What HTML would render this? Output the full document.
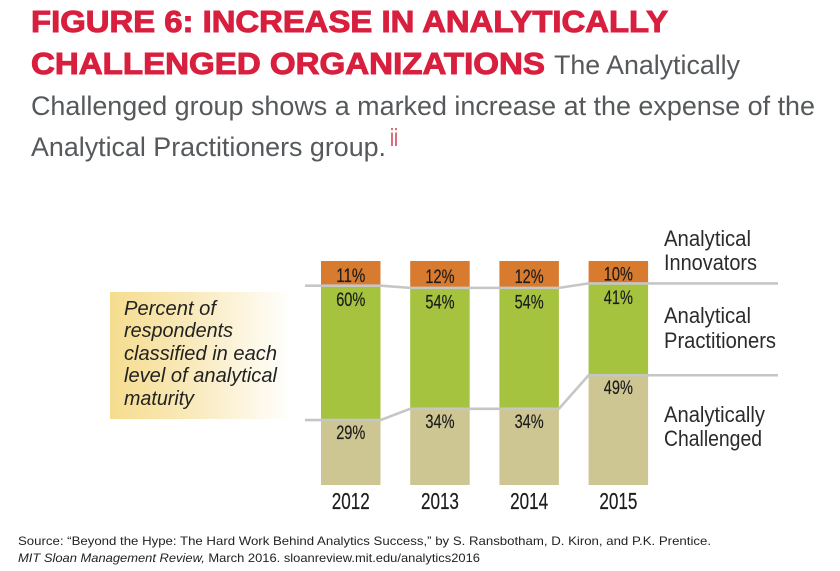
<!DOCTYPE html>
<html lang="en">
<head>
<meta charset="utf-8">
<title>Figure 6: Increase in Analytically Challenged Organizations</title>
<style>
html,body{margin:0;padding:0;background:#fff;width:840px;height:571px;overflow:hidden}
svg{display:block}
.t-red{font-family:"Liberation Sans",sans-serif;font-weight:700;font-size:31px;fill:#d81f3e;stroke:#d81f3e;stroke-width:1px}
.t-sub{font-family:"Liberation Sans",sans-serif;font-size:27px;fill:#56595b}
.src{font-family:"Liberation Sans",sans-serif;font-size:12px;fill:#222}
.nar{font-family:"Liberation Sans Narrow","Liberation Sans",sans-serif;fill:#1c1c1c}
.lab{font-size:22.5px;fill:#2b2b2b}
.note{font-family:"Liberation Sans",sans-serif;font-style:italic;font-size:20px;fill:#222}
</style>
</head>
<body>
<svg id="chart" xmlns="http://www.w3.org/2000/svg" width="840" height="571" viewBox="0 0 840 571">
<defs>
<linearGradient id="noteGrad" x1="0" x2="1" y1="0" y2="0">
<stop offset="0" stop-color="#f5dc8e"/>
<stop offset="0.45" stop-color="#f9eabc"/>
<stop offset="1" stop-color="#ffffff"/>
</linearGradient>
</defs>
<rect width="840" height="571" fill="#fff"/>
<g>
<text class="t-red" x="31" y="32" textLength="637" lengthAdjust="spacingAndGlyphs">FIGURE 6: INCREASE IN ANALYTICALLY</text>
<text class="t-red" x="31" y="74" textLength="514" lengthAdjust="spacingAndGlyphs">CHALLENGED ORGANIZATIONS</text>
<text class="t-sub" x="554" y="74" textLength="186" lengthAdjust="spacingAndGlyphs">The Analytically</text>
<text class="t-sub" x="31" y="115" textLength="784" lengthAdjust="spacingAndGlyphs">Challenged group shows a marked increase at the expense of the</text>
<text class="t-sub" x="31" y="156" textLength="355" lengthAdjust="spacingAndGlyphs">Analytical Practitioners group.</text>
<text x="390" y="146" font-family="Liberation Sans, sans-serif" font-size="25" fill="#d8475e" textLength="8" lengthAdjust="spacingAndGlyphs">ii</text>
</g>
<g>
<rect x="110" y="292" width="182" height="127" fill="url(#noteGrad)"/>
<text class="note" x="124" y="315" textLength="92" lengthAdjust="spacingAndGlyphs">Percent of</text>
<text class="note" x="124" y="337" textLength="109" lengthAdjust="spacingAndGlyphs">respondents</text>
<text class="note" x="124" y="360" textLength="153" lengthAdjust="spacingAndGlyphs">classified in each</text>
<text class="note" x="124" y="382" textLength="153" lengthAdjust="spacingAndGlyphs">level of analytical</text>
<text class="note" x="124" y="405" textLength="70" lengthAdjust="spacingAndGlyphs">maturity</text>
</g>
<g id="bars"></g>
<g id="connectors"></g>
<g id="values"></g>
<g id="years"></g>
<g>
<text class="nar lab" x="664" y="246" textLength="87" lengthAdjust="spacingAndGlyphs">Analytical</text>
<text class="nar lab" x="664" y="270" textLength="93" lengthAdjust="spacingAndGlyphs">Innovators</text>
<text class="nar lab" x="664" y="323" textLength="87" lengthAdjust="spacingAndGlyphs">Analytical</text>
<text class="nar lab" x="664" y="348" textLength="112" lengthAdjust="spacingAndGlyphs">Practitioners</text>
<text class="nar lab" x="664" y="422" textLength="101" lengthAdjust="spacingAndGlyphs">Analytically</text>
<text class="nar lab" x="664" y="446" textLength="98" lengthAdjust="spacingAndGlyphs">Challenged</text>
</g>
<g>
<text class="src" x="18" y="545" textLength="693" lengthAdjust="spacingAndGlyphs">Source: “Beyond the Hype: The Hard Work Behind Analytics Success,” by S. Ransbotham, D. Kiron, and P.K. Prentice.</text>
<text class="src" x="18" y="562" textLength="462" lengthAdjust="spacingAndGlyphs"><tspan font-style="italic">MIT Sloan Management Review,</tspan> March 2016. sloanreview.mit.edu/analytics2016</text>
</g>
</svg>
<script>
const years = ['2012', '2013', '2014', '2015'];
const challenged = [29, 34, 34, 49];
const practitioners = [60, 54, 54, 41];
const innovators = [11, 12, 12, 10];

const NS = 'http://www.w3.org/2000/svg';
const plotBottom = 485, plotHeight = 224, barWidth = 59.5;
const yScale = function (v) { return plotBottom - v / 100 * plotHeight; };
const xScale = function (i) { return 321 + i * 89.2; };

function make(tag, parent, attrs) {
  const el = document.createElementNS(NS, tag);
  Object.keys(attrs).forEach(function (k) { el.setAttribute(k, attrs[k]); });
  parent.appendChild(el);
  return el;
}

const barsG = document.getElementById('bars');
const connG = document.getElementById('connectors');
const valsG = document.getElementById('values');
const yearsG = document.getElementById('years');

function addValue(text, cx, y, name) {
  const t = make('text', valsG, {
    x: cx, y: y, 'text-anchor': 'middle', 'class': 'nar', 'font-size': 19.5,
    stroke: '#1c1c1c', 'stroke-width': 0.2,
    textLength: text.length * 9.7, lengthAdjust: 'spacingAndGlyphs'
  });
  t.textContent = text;
  
  
}

years.forEach(function (year, i) {
  const x = xScale(i);
  const cx = x + barWidth / 2;
  const y0 = yScale(0);
  const y1 = yScale(challenged[i]);
  const y2 = yScale(challenged[i] + practitioners[i]);
  const y3 = yScale(challenged[i] + practitioners[i] + innovators[i]);

  const r1 = make('rect', barsG, { x: x, y: y1, width: barWidth, height: y0 - y1, fill: '#cdc692' });
  
  
  const r2 = make('rect', barsG, { x: x, y: y2, width: barWidth, height: y1 - y2, fill: '#a5c33e' });
  
  
  const r3 = make('rect', barsG, { x: x, y: y3, width: barWidth, height: y2 - y3, fill: '#d97b2f' });
  
  

  addValue(innovators[i] + '%', cx, (y3 + y2) / 2 + 8.5, 'value-innovators-' + year);
  addValue(practitioners[i] + '%', cx, y2 + 20.5, 'value-practitioners-' + year);
  addValue(challenged[i] + '%', cx, y1 + 19, 'value-challenged-' + year);

  const yl = make('text', yearsG, {
    x: cx, y: 509, 'text-anchor': 'middle', 'class': 'nar', 'font-size': 23,
    stroke: '#1c1c1c', 'stroke-width': 0.2,
    textLength: 38, lengthAdjust: 'spacingAndGlyphs'
  });
  yl.textContent = year;
  
  
});

function connector(valueAt, name) {
  let pts = '305,' + yScale(valueAt(0));
  years.forEach(function (year, i) {
    const y = yScale(valueAt(i));
    pts += ' ' + xScale(i) + ',' + y + ' ' + (xScale(i) + barWidth) + ',' + y;
  });
  pts += ' 778,' + yScale(valueAt(years.length - 1));
  const line = make('polyline', connG, { points: pts, fill: 'none', stroke: '#c6c6c4', 'stroke-width': 2.6 });
  
  
}
connector(function (i) { return challenged[i]; }, 'connector-challenged');
connector(function (i) { return challenged[i] + practitioners[i]; }, 'connector-practitioners');
</script>
</body>
</html>
